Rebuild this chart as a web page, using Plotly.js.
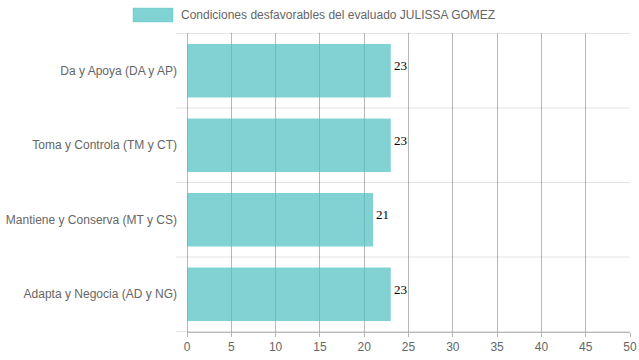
<!DOCTYPE html>
<html>
<head>
<meta charset="utf-8">
<script src="https://cdn.plot.ly/plotly-3.0.1.min.js"></script>
<style>html,body{margin:0;padding:0;background:#fff}#chart{width:639px;height:360px}</style>
</head>
<body>
<div id="chart"></div>
<script>
const categories = ["Da y Apoya (DA y AP)", "Toma y Controla (TM y CT)", "Mantiene y Conserva (MT y CS)", "Adapta y Negocia (AD y NG)"];
const values = [23, 23, 21, 23];
const seriesName = "Condiciones desfavorables del evaluado JULISSA GOMEZ";
const xTicks = [0, 5, 10, 15, 20, 25, 30, 35, 40, 45, 50];

const fill = "rgba(75,192,192,0.7)";
const gridDark = "rgba(0,0,0,0.28)";
const gridLight = "rgba(0,0,0,0.1)";

const shapes = [];
for (let i = 0; i <= categories.length; i++) {
  shapes.push({type: "line", xref: "paper", yref: "y", x0: -0.025, x1: 1, y0: i - 0.5, y1: i - 0.5,
    line: {color: gridLight, width: 1}, layer: "below"});
}
shapes.push({type: "rect", xref: "paper", yref: "paper", x0: -0.1219, x1: -0.0316, y0: 1.0368, y1: 1.0836,
  fillcolor: fill, line: {color: "rgba(75,192,192,0.35)", width: 1}});

const annotations = [{xref: "paper", yref: "paper", x: -0.018, y: 1.06, xanchor: "left", yanchor: "middle",
  text: seriesName, showarrow: false, font: {size: 12, color: "#666"}}];
categories.forEach((c, i) => {
  annotations.push({xref: "x", yref: "y", x: values[i], y: c, xanchor: "left", yanchor: "middle",
    xshift: 1, yshift: 5, text: String(values[i]), showarrow: false,
    font: {family: "Liberation Serif, Times New Roman, serif", size: 13, color: "#000"}});
});

const trace = {
  type: "bar", orientation: "h", y: categories, x: values, name: seriesName,
  marker: {color: fill, line: {width: 0}},
  hoverinfo: "x+y"
};

const layout = {
  width: 639, height: 360,
  margin: {l: 187, r: 9, t: 33, b: 28, pad: 0},
  paper_bgcolor: "#fff", plot_bgcolor: "#fff",
  showlegend: false, bargap: 0.28,
  font: {family: "Liberation Sans, Arial, sans-serif", size: 12, color: "#666"},
  xaxis: {range: [0, 50], tickvals: xTicks, showgrid: true, gridcolor: gridDark, gridwidth: 1,
    zeroline: true, zerolinecolor: gridDark, zerolinewidth: 1,
    showline: true, linecolor: gridDark, linewidth: 1,
    ticks: "outside", ticklen: 4, tickcolor: gridDark, fixedrange: true,
    tickfont: {size: 12, color: "#666"}},
  yaxis: {type: "category", autorange: "reversed", showgrid: false, zeroline: false, showline: false,
    ticks: "", ticklabelstandoff: 9, tickfont: {size: 12, color: "#666"}, fixedrange: true},
  shapes: shapes,
  annotations: annotations
};

Plotly.newPlot("chart", [trace], layout, {displayModeBar: false, staticPlot: true});
</script>
</body>
</html>
